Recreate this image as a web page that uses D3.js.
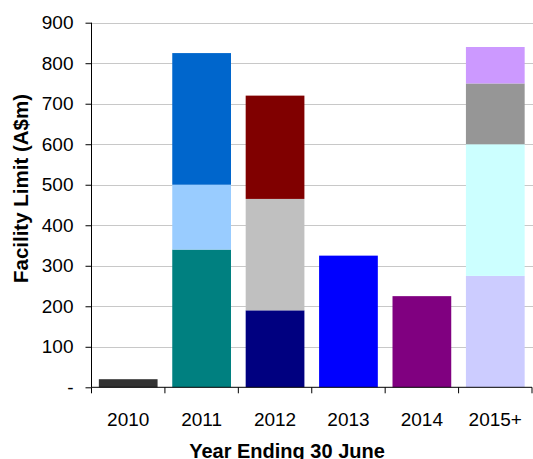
<!DOCTYPE html>
<html>
<head>
<meta charset="utf-8">
<script src="https://cdn.jsdelivr.net/npm/d3@7"></script>
<style>
  html, body { margin: 0; padding: 0; background: #fff; }
  svg { display: block; font-family: "Liberation Sans", Arial, sans-serif; }
</style>
</head>
<body>
<svg id="chart" width="533" height="459"></svg>
<script>
// Facility maturity profile by financial year (A$m), stacked tranches per year
const categories = ["2010", "2011", "2012", "2013", "2014", "2015+"];
const trancheValues = [
  [20],
  [340, 160, 325],
  [190, 275, 255],
  [325],
  [225],
  [275, 325, 150, 90]
];
const trancheColors = [
  ["#333333"],
  ["#008080", "#99ccff", "#0066cc"],
  ["#000080", "#c0c0c0", "#800000"],
  ["#0000ff"],
  ["#800080"],
  ["#ccccff", "#ccffff", "#969696", "#cc99ff"]
];
const yTicks = [0, 100, 200, 300, 400, 500, 600, 700, 800, 900];
const yTickLabels = ["-", "100", "200", "300", "400", "500", "600", "700", "800", "900"];

const svg = d3.select("#chart");
const plotLeft = 91.5, plotRight = 532, plotTop = 22.7, plotBottom = 387.3;

const x = d3.scaleBand().domain(categories).range([plotLeft, plotRight])
  .paddingInner(0.2).paddingOuter(0.1);
const y = d3.scaleLinear().domain([0, 900]).range([plotBottom, plotTop]);

// horizontal gridlines
svg.append("g").selectAll("line").data(yTicks.filter(d => d > 0)).join("line")
  .attr("x1", plotLeft).attr("x2", 533)
  .attr("y1", d => Math.round(y(d)) + 0.5).attr("y2", d => Math.round(y(d)) + 0.5)
  .attr("stroke", "#c8c8c8").attr("stroke-width", 1);

// stacked bars
const segs = [];
categories.forEach((c, i) => {
  let base = 0;
  trancheValues[i].forEach((v, j) => {
    segs.push({ c, y0: base, y1: base + v, color: trancheColors[i][j] });
    base += v;
  });
});
svg.append("g").selectAll("rect").data(segs).join("rect")
  .attr("x", d => x(d.c))
  .attr("width", x.bandwidth())
  .attr("y", d => y(d.y1))
  .attr("height", d => y(d.y0) - y(d.y1))
  .attr("fill", d => d.color);

// y axis
const yAxis = d3.axisLeft(y).tickValues(yTicks)
  .tickFormat((d, i) => yTickLabels[i]).tickSize(6).tickPadding(12);
const gy = svg.append("g").attr("transform", `translate(${plotLeft},0)`).call(yAxis);
gy.select(".domain").attr("d", `M0,${plotTop}V${plotBottom}`).attr("stroke", "#000");
gy.selectAll(".tick line").attr("stroke", "#000");
gy.selectAll(".tick text").attr("font-size", 19).attr("fill", "#000")
  .attr("font-family", "Liberation Sans, Arial, sans-serif");

// x axis with ticks at category boundaries
const step = x.step();
const bounds = categories.map(c => x(c) - step * x.paddingOuter()).concat([plotRight]);
svg.append("line").attr("x1", plotLeft).attr("x2", plotRight)
  .attr("y1", plotBottom).attr("y2", plotBottom).attr("stroke", "#000");
svg.append("g").selectAll("line").data(bounds).join("line")
  .attr("x1", d => d).attr("x2", d => d)
  .attr("y1", plotBottom).attr("y2", plotBottom + 6).attr("stroke", "#000");
svg.append("g").selectAll("text").data(categories).join("text")
  .attr("x", d => x(d) + x.bandwidth() / 2)
  .attr("y", 425.7)
  .attr("text-anchor", "middle").attr("font-size", 19).attr("fill", "#000")
  .text(d => d);

// axis titles
svg.append("text").attr("x", 287).attr("y", 457.5)
  .attr("text-anchor", "middle").attr("font-size", 20).attr("font-weight", "bold")
  .text("Year Ending 30 June");
svg.append("text")
  .attr("transform", "translate(28.3,188.5) rotate(-90)")
  .attr("text-anchor", "middle").attr("font-size", 20.5).attr("font-weight", "bold")
  .text("Facility Limit (A$m)");
</script>
</body>
</html>
